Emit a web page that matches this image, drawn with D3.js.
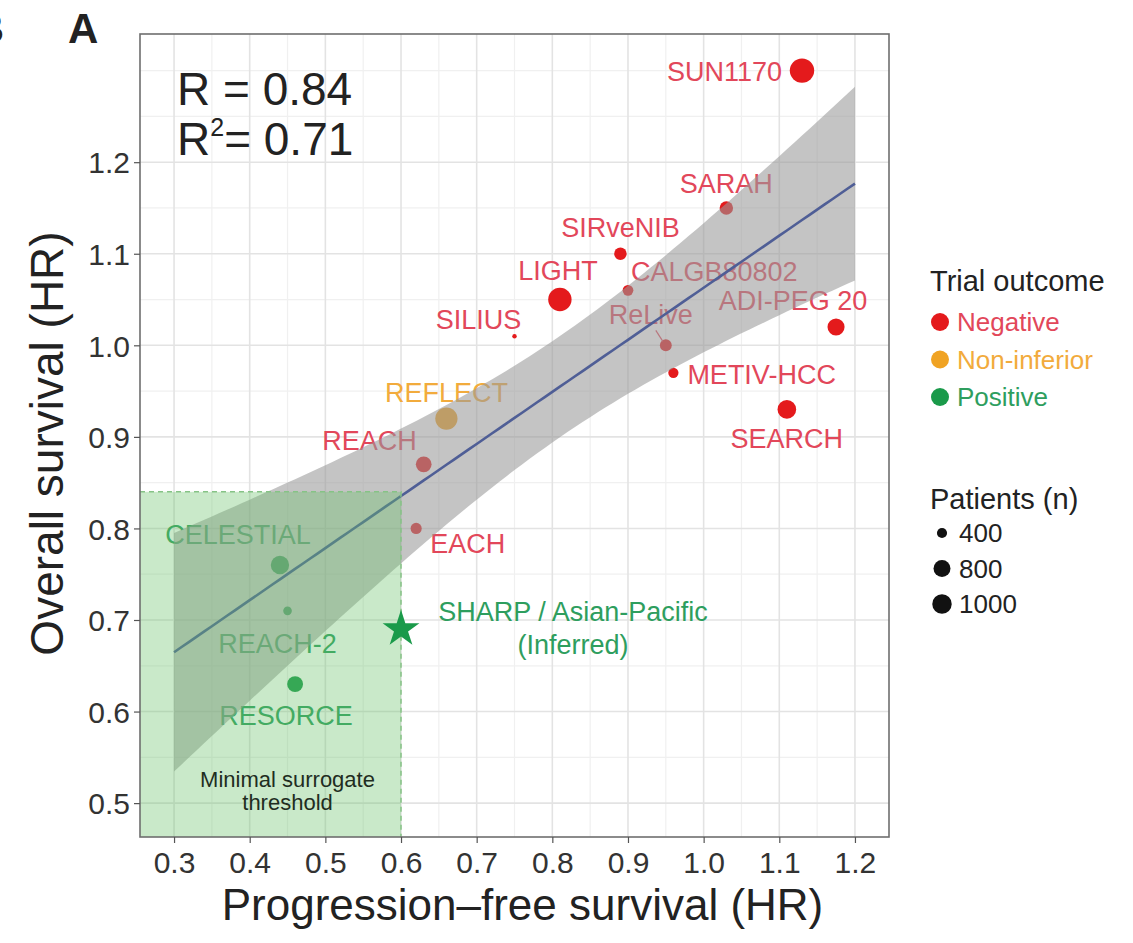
<!DOCTYPE html>
<html>
<head>
<meta charset="utf-8">
<script src="https://cdn.jsdelivr.net/npm/d3@7"></script>
<style>
  body { margin: 0; background: #fff; }
  svg { font-family: "Liberation Sans", Arial, sans-serif; }
</style>
</head>
<body>
<div id="chart"></div>
<script>
// trial data
const trials   = ["SUN1170", "SARAH", "SIRveNIB", "CALGB80802", "ReLive", "ADI-PEG 20", "METIV-HCC", "SEARCH",
                  "LIGHT", "SILIUS", "REFLECT", "REACH", "EACH", "CELESTIAL", "REACH-2", "RESORCE"];
const pfsHR    = [1.13, 1.03, 0.89, 0.90, 0.95, 1.175, 0.96, 1.11, 0.81, 0.75, 0.66, 0.63, 0.62, 0.44, 0.45, 0.46];
const osHR     = [1.30, 1.15, 1.10, 1.06, 1.00, 1.02, 0.97, 0.93, 1.05, 1.01, 0.92, 0.87, 0.80, 0.76, 0.71, 0.63];
const outcome  = ["Negative", "Negative", "Negative", "Negative", "Negative", "Negative", "Negative", "Negative",
                  "Negative", "Negative", "Non-inferior", "Negative", "Negative", "Positive", "Positive", "Positive"];
const patients = [1114, 459, 420, 356, 397, 635, 340, 720, 1035, 206, 954, 565, 371, 707, 292, 573];

// the inferred trial (star)
const inferredLabel = ["SHARP / Asian-Pacific", "(Inferred)"];
const inferredPFS = 0.60;
const inferredOS = 0.69;

// shaded threshold box
const thresholdPFS = 0.6;
const thresholdOS = 0.84;
const thresholdText = ["Minimal surrogate", "threshold"];

const outcomes = ["Negative", "Non-inferior", "Positive"];
const sizeBreaks = [400, 800, 1000];
const xTicks = [0.3, 0.4, 0.5, 0.6, 0.7, 0.8, 0.9, 1.0, 1.1, 1.2];
const yTicks = [0.5, 0.6, 0.7, 0.8, 0.9, 1.0, 1.1, 1.2];
const statLines = ["R = 0.84", "= 0.71"];

// label placement (pixel nudges from the point, like ggrepel output)
const labelPos = {
  "SUN1170":    { a: "end",    dx: -20, dy: 10 },
  "SARAH":      { a: "middle", dx: 0,   dy: -15 },
  "SIRveNIB":   { a: "middle", dx: 0,   dy: -17 },
  "CALGB80802": { a: "start",  dx: 3,   dy: -9 },
  "ReLive":     { a: "middle", dx: -15, dy: -21, seg: true },
  "ADI-PEG 20": { a: "middle", dx: -43, dy: -17 },
  "METIV-HCC":  { a: "start",  dx: 14,  dy: 11 },
  "SEARCH":     { a: "middle", dx: 0,   dy: 39 },
  "LIGHT":      { a: "middle", dx: -2,  dy: -20 },
  "SILIUS":     { a: "middle", dx: -36, dy: -7 },
  "REFLECT":    { a: "middle", dx: 0,   dy: -17 },
  "REACH":      { a: "end",    dx: -7,  dy: -14 },
  "EACH":       { a: "start",  dx: 14,  dy: 25 },
  "CELESTIAL":  { a: "middle", dx: -42, dy: -21 },
  "REACH-2":    { a: "middle", dx: -10, dy: 42 },
  "RESORCE":    { a: "middle", dx: -9,  dy: 41 }
};

const pointColor = { "Negative": "#e41a1c", "Non-inferior": "#f0a323", "Positive": "#1a9a4a" };
const textColor  = { "Negative": "#e2475a", "Non-inferior": "#f2ab3c", "Positive": "#2e9e5e" };

const W = 1133, H = 943;
const panel = { left: 140, right: 889, top: 34, bottom: 837 };

const svg = d3.select('#chart').append('svg')
  .attr('width', W).attr('height', H);

const x = d3.scaleLinear().domain([0.255, 1.245]).range([panel.left, panel.right]);
const y = d3.scaleLinear().domain([0.463, 1.34]).range([panel.bottom, panel.top]);

// ggplot-ish size scale: area linear in n
const area = d3.scaleLinear().domain([200, 1120]).range([4, 150]);
const radius = n => Math.sqrt(area(n));

// grid
const grid = svg.append('g');
const minorX = d3.range(0.25, 1.30, 0.05).filter(v => v > 0.256 && v < 1.244 && !xTicks.some(t => Math.abs(t - v) < 1e-6));
const minorY = d3.range(0.45, 1.40, 0.05).filter(v => v > 0.464 && v < 1.339 && !yTicks.some(t => Math.abs(t - v) < 1e-6));
grid.selectAll('.mx').data(minorX).join('line')
  .attr('x1', d => x(d)).attr('x2', d => x(d)).attr('y1', panel.top).attr('y2', panel.bottom)
  .attr('stroke', '#f0f0f0').attr('stroke-width', 1.2);
grid.selectAll('.my').data(minorY).join('line')
  .attr('y1', d => y(d)).attr('y2', d => y(d)).attr('x1', panel.left).attr('x2', panel.right)
  .attr('stroke', '#f0f0f0').attr('stroke-width', 1.2);
grid.selectAll('.gx').data(xTicks).join('line')
  .attr('x1', d => x(d)).attr('x2', d => x(d)).attr('y1', panel.top).attr('y2', panel.bottom)
  .attr('stroke', '#e3e3e3').attr('stroke-width', 1.6);
grid.selectAll('.gy').data(yTicks).join('line')
  .attr('y1', d => y(d)).attr('y2', d => y(d)).attr('x1', panel.left).attr('x2', panel.right)
  .attr('stroke', '#e3e3e3').attr('stroke-width', 1.6);

const rows = trials.map((t, i) => ({ name: t, pfs: pfsHR[i], os: osHR[i], out: outcome[i], n: patients[i] }));

// points
svg.append('g').selectAll('circle').data(rows).join('circle')
  .attr('cx', d => x(d.pfs)).attr('cy', d => y(d.os))
  .attr('r', d => radius(d.n))
  .attr('fill', d => pointColor[d.out]);

// labels
const lab = svg.append('g').attr('font-size', 27);
rows.forEach(d => {
  const p = labelPos[d.name];
  const px = x(d.pfs), py = y(d.os);
  if (p.seg) {
    lab.append('line')
      .attr('x1', px + p.dx + 5).attr('y1', py + p.dy + 6)
      .attr('x2', px - 3).attr('y2', py - 4)
      .attr('stroke', textColor[d.out]).attr('stroke-width', 1.2);
  }
  lab.append('text')
    .attr('x', px + p.dx).attr('y', py + p.dy)
    .attr('text-anchor', p.a)
    .attr('fill', textColor[d.out])
    .text(d.name);
});

// linear fit with 95% confidence band (like geom_smooth(method = "lm"))
const n = rows.length;
const mx = d3.mean(pfsHR), my = d3.mean(osHR);
const sxx = d3.sum(pfsHR, v => (v - mx) ** 2);
const sxy = d3.sum(rows, d => (d.pfs - mx) * (d.os - my));
const slope = sxy / sxx;
const icpt = my - slope * mx;
const sse = d3.sum(rows, d => (d.os - (icpt + slope * d.pfs)) ** 2);
const s = Math.sqrt(sse / (n - 2));
const tCrit = 2.145; // t(0.975, df = 14)
const fitX = d3.range(0.3, 1.2001, 0.01);
const band = fitX.map(v => {
  const fit = icpt + slope * v;
  const se = s * Math.sqrt(1 / n + (v - mx) ** 2 / sxx);
  return { x: v, fit, lo: fit - tCrit * se, hi: fit + tCrit * se };
});

svg.append('path')
  .datum(band)
  .attr('d', d3.area().x(d => x(d.x)).y0(d => y(d.lo)).y1(d => y(d.hi)))
  .attr('fill', '#999999').attr('fill-opacity', 0.58);

svg.append('path')
  .datum(band)
  .attr('d', d3.line().x(d => x(d.x)).y(d => y(d.fit)))
  .attr('fill', 'none').attr('stroke', '#4f5e96').attr('stroke-width', 2.6);

// threshold box
svg.append('rect')
  .attr('x', panel.left).attr('y', y(thresholdOS))
  .attr('width', x(thresholdPFS) - panel.left)
  .attr('height', panel.bottom - y(thresholdOS))
  .attr('fill', 'rgb(105,195,105)').attr('fill-opacity', 0.36);
svg.append('path')
  .attr('d', `M${panel.left},${y(thresholdOS)}H${x(thresholdPFS)}V${panel.bottom}`)
  .attr('fill', 'none').attr('stroke', '#86c386').attr('stroke-width', 1.5)
  .attr('stroke-dasharray', '5,4');

svg.append('text')
  .attr('text-anchor', 'middle').attr('font-size', 22).attr('fill', '#1f2d1f')
  .selectAll('tspan').data(thresholdText).join('tspan')
  .attr('x', x(0.45)).attr('y', (d, i) => y(0.518) + i * 23)
  .text(d => d);

// inferred star
const star = d3.symbol().type(d3.symbolStar).size(420);
svg.append('path')
  .attr('d', star())
  .attr('transform', `translate(${x(inferredPFS)},${y(inferredOS)})`)
  .attr('fill', '#1a9a4a');
svg.append('text')
  .attr('font-size', 27).attr('fill', textColor.Positive).attr('text-anchor', 'middle')
  .selectAll('tspan').data(inferredLabel).join('tspan')
  .attr('x', x(inferredPFS) + 172)
  .attr('y', (d, i) => y(inferredOS) - 8 + i * 33)
  .text(d => d);

// panel border
svg.append('rect')
  .attr('x', panel.left).attr('y', panel.top)
  .attr('width', panel.right - panel.left).attr('height', panel.bottom - panel.top)
  .attr('fill', 'none').attr('stroke', '#6e6e6e').attr('stroke-width', 1.6);

// axes
const xAxis = svg.append('g')
  .attr('transform', `translate(0,${panel.bottom})`)
  .call(d3.axisBottom(x).tickValues(xTicks).tickFormat(d3.format('.1f')).tickSize(6).tickPadding(9));
const yAxis = svg.append('g')
  .attr('transform', `translate(${panel.left},0)`)
  .call(d3.axisLeft(y).tickValues(yTicks).tickFormat(d3.format('.1f')).tickSize(6).tickPadding(4));
[xAxis, yAxis].forEach(a => {
  a.select('.domain').remove();
  a.selectAll('.tick line').attr('stroke', '#555').attr('stroke-width', 1.2);
  a.selectAll('.tick text').attr('font-size', 30).attr('fill', '#333')
    .attr('font-family', '"Liberation Sans", Arial, sans-serif');
});
yAxis.selectAll('.tick text').attr('dy', '0.36em');

svg.append('text')
  .attr('x', (panel.left + panel.right) / 2 + 8).attr('y', 920)
  .attr('text-anchor', 'middle').attr('font-size', 44).attr('fill', '#222')
  .text('Progression\u2013free survival (HR)');
svg.append('text')
  .attr('transform', `translate(63,${(panel.top + panel.bottom) / 2 + 8}) rotate(-90)`)
  .attr('text-anchor', 'middle').attr('font-size', 46).attr('fill', '#222')
  .text('Overall survival (HR)');

// panel letters
svg.append('text').attr('x', 68).attr('y', 43).attr('font-size', 42).attr('font-weight', 'bold').attr('fill', '#222').text('A');
svg.append('text').attr('x', 4).attr('y', 43).attr('font-size', 42).attr('font-weight', 'bold').attr('fill', '#222')
  .attr('text-anchor', 'end').text('B');

// R / R² annotation
const stat = svg.append('g').attr('font-size', 46).attr('fill', '#222');
stat.append('text').attr('x', 177).attr('y', 105).text(statLines[0]);
const r2 = stat.append('text').attr('x', 177).attr('y', 155);
r2.append('tspan').text('R');
r2.append('tspan').attr('font-size', 25).attr('dy', -19).text('2');
r2.append('tspan').attr('dy', 19).text(statLines[1]);

// legend: outcome
const leg = svg.append('g').attr('transform', 'translate(930,0)');
leg.append('text').attr('x', 0).attr('y', 291).attr('font-size', 29).attr('fill', '#222').text('Trial outcome');
outcomes.forEach((o, i) => {
  const cy = 322 + i * 37.5;
  leg.append('circle').attr('cx', 10).attr('cy', cy).attr('r', 9).attr('fill', pointColor[o]);
  leg.append('text').attr('x', 27).attr('y', cy + 9).attr('font-size', 26).attr('fill', textColor[o]).text(o);
});

// legend: patients
leg.append('text').attr('x', 0).attr('y', 509).attr('font-size', 29).attr('fill', '#222').text('Patients (n)');
sizeBreaks.forEach((b, i) => {
  const cy = 533 + i * 35.5;
  leg.append('circle').attr('cx', 12).attr('cy', cy).attr('r', radius(b) * 0.85).attr('fill', '#111');
  leg.append('text').attr('x', 29).attr('y', cy + 9).attr('font-size', 26).attr('fill', '#222').text(b);
});
</script>
</body>
</html>
